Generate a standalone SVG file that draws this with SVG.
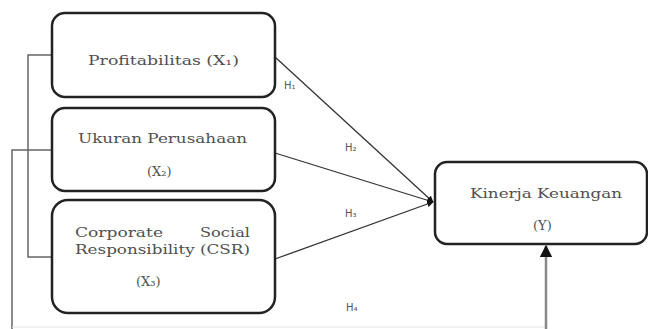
<svg xmlns="http://www.w3.org/2000/svg" width="648" height="329" viewBox="0 0 648 329">
<defs>
<style>
.box{fill:#fff;stroke:#222;stroke-width:2.5}
.t{font-family:"DejaVu Serif","Liberation Serif",serif;font-size:13px;fill:#505050}
.h{font-family:"DejaVu Sans","Liberation Sans",sans-serif;font-size:10px;fill:#555}
.ln{fill:none;stroke:#333;stroke-width:1.3}
.br{fill:none;stroke:#666;stroke-width:1.5}
</style>
<marker id="ah" viewBox="0 0 10 10" refX="9" refY="5" markerWidth="5" markerHeight="5" orient="auto">
<path d="M0,0 L10,5 L0,10 z" fill="#111"/>
</marker>
</defs>
<rect width="648" height="329" fill="#fff"/>
<g id="connectors">
<path class="br" d="M52,55 H28 V257 H52"/>
<path class="br" d="M52,150 H12 V329"/>
<path d="M12,327 H546" fill="none" stroke="#e6e6e6" stroke-width="1.2"/>
<line class="ln" x1="275" y1="57" x2="433" y2="202" marker-end="url(#ah)"/>
<line class="ln" x1="275" y1="153" x2="433" y2="202" marker-end="url(#ah)"/>
<line class="ln" x1="275" y1="259" x2="433" y2="202" marker-end="url(#ah)"/>
<line x1="546" y1="329" x2="546" y2="246" stroke="#888" stroke-width="2.5" marker-end="url(#ah)"/>
<text class="h" x="284" y="89">H₁</text>
<text class="h" x="345" y="151">H₂</text>
<text class="h" x="345" y="217">H₃</text>
<text class="h" x="346" y="311">H₄</text>
</g>
<g id="x1">
<rect class="box" x="52" y="13" width="223" height="84" rx="13"/>
<text class="t" x="88" y="65" textLength="151" lengthAdjust="spacingAndGlyphs">Profitabilitas (X₁)</text>
</g>
<g id="x2">
<rect class="box" x="52" y="108" width="223" height="83" rx="13"/>
<text class="t" x="78" y="143" textLength="169" lengthAdjust="spacingAndGlyphs">Ukuran Perusahaan</text>
<text class="t" x="147" y="176">(X₂)</text>
</g>
<g id="x3">
<rect class="box" x="52" y="200" width="223" height="113" rx="16"/>
<text class="t" x="75" y="237" textLength="88" lengthAdjust="spacingAndGlyphs">Corporate</text>
<text class="t" x="200" y="237" textLength="50" lengthAdjust="spacingAndGlyphs">Social</text>
<text class="t" x="75" y="254" textLength="175" lengthAdjust="spacingAndGlyphs">Responsibility (CSR)</text>
<text class="t" x="136" y="286">(X₃)</text>
</g>
<g id="y">
<rect class="box" x="435" y="162" width="212" height="82" rx="12"/>
<text class="t" x="470" y="198" textLength="152" lengthAdjust="spacingAndGlyphs">Kinerja Keuangan</text>
<text class="t" x="533" y="230">(Y)</text>
</g>
</svg>
